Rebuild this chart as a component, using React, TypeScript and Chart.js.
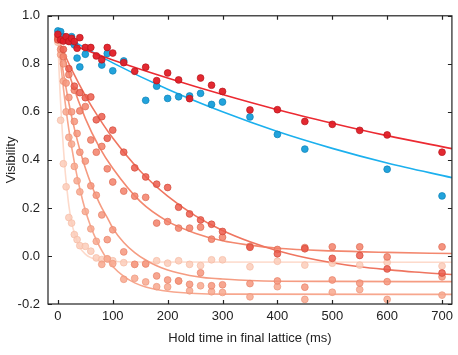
import React, { useEffect, useRef } from "react";
import { Chart, registerables } from "chart.js";
Chart.register(...registerables);

const xTickValues = [0, 100, 200, 300, 400, 500, 600, 700];
const yTickValues = [-0.2, 0, 0.2, 0.4, 0.6, 0.8, 1.0];

// Red series
const redX = [0, 5, 10, 15, 20, 25, 30, 35, 40, 50, 60, 70, 80, 90, 100, 120, 140, 160, 180, 200, 220, 240, 260, 280, 300, 350, 400, 450, 500, 550, 600, 700];
const redY = [0.923, 0.9, 0.895, 0.913, 0.893, 0.906, 0.893, 0.865, 0.909, 0.868, 0.868, 0.833, 0.817, 0.868, 0.845, 0.805, 0.769, 0.786, 0.73, 0.762, 0.733, 0.655, 0.741, 0.711, 0.685, 0.608, 0.609, 0.56, 0.548, 0.523, 0.504, 0.432];
const redFitX = [0, 100, 200, 300, 400, 500, 600, 718];
const redFitY = [0.9, 0.816, 0.741, 0.672, 0.609, 0.553, 0.501, 0.447];

// Blue series
const blueX = [0, 5, 10, 15, 20, 25, 30, 35, 40, 50, 80, 90, 100, 120, 160, 180, 200, 220, 240, 260, 280, 300, 350, 400, 450, 600, 700];
const blueY = [0.937, 0.934, 0.913, 0.899, 0.895, 0.913, 0.879, 0.824, 0.787, 0.84, 0.795, 0.843, 0.771, 0.812, 0.648, 0.707, 0.656, 0.663, 0.666, 0.677, 0.631, 0.641, 0.579, 0.506, 0.445, 0.361, 0.25];
const blueFitX = [0, 100, 200, 300, 400, 500, 600, 718];
const blueFitY = [0.93, 0.804, 0.694, 0.6, 0.518, 0.448, 0.387, 0.326];

// Orange series (slowest decay, darkest)
const s1X = [0, 10, 20, 30, 40, 50, 60, 70, 80, 90, 100, 120, 140, 160, 180, 200, 220, 240, 260, 280, 300, 350, 400, 450, 500, 550, 600, 700];
const s1Y = [0.9, 0.86, 0.78, 0.707, 0.68, 0.659, 0.662, 0.567, 0.58, 0.49, 0.524, 0.432, 0.367, 0.329, 0.299, 0.285, 0.203, 0.175, 0.15, 0.132, 0.102, 0.036, 0.009, 0.03, -0.01, 0.002, -0.054, -0.071];
const s1FitX = [0, 25, 50, 75, 100, 150, 200, 250, 300, 350, 400, 450, 500, 550, 600, 650, 718];
const s1FitY = [0.9, 0.777, 0.668, 0.574, 0.491, 0.354, 0.249, 0.168, 0.106, 0.059, 0.022, -0.006, -0.028, -0.045, -0.057, -0.067, -0.077];

const s2X = [0, 10, 20, 30, 40, 50, 60, 70, 80, 90, 100, 120, 140, 160, 180, 200, 220, 240, 260, 280, 300, 350, 400, 450, 500, 550, 600, 700];
const s2Y = [0.91, 0.83, 0.755, 0.69, 0.604, 0.622, 0.483, 0.432, 0.456, 0.363, 0.308, 0.27, 0.249, 0.244, 0.137, 0.143, 0.116, 0.116, 0.12, 0.07, 0.078, 0.04, 0.027, 0.035, 0.038, 0.038, -0.004, 0.038];
const s2FitX = [0, 25, 50, 75, 100, 150, 200, 250, 300, 350, 400, 500, 600, 718];
const s2FitY = [0.92, 0.726, 0.573, 0.455, 0.365, 0.227, 0.144, 0.095, 0.063, 0.045, 0.032, 0.021, 0.015, 0.01];

const s3X = [0, 5, 10, 15, 20, 25, 30, 35, 40, 50, 60, 70, 80, 90, 100, 120, 140, 160, 180, 200, 220, 240, 260, 280, 300, 350, 400, 450, 500, 550, 600, 700];
const s3Y = [0.91, 0.86, 0.8, 0.72, 0.66, 0.6, 0.56, 0.51, 0.432, 0.395, 0.292, 0.253, 0.171, 0.068, 0.109, 0.017, -0.035, -0.033, -0.083, -0.1, -0.104, -0.118, -0.07, -0.124, -0.12, -0.115, -0.104, -0.13, -0.1, -0.113, -0.107, -0.087];
const s3FitX = [0, 10, 20, 30, 40, 50, 60, 70, 80, 90, 100, 120, 140, 160, 180, 200, 220, 240, 260, 280, 300, 350, 400, 500, 718];
const s3FitY = [0.903, 0.763, 0.637, 0.531, 0.442, 0.366, 0.302, 0.248, 0.2, 0.16, 0.116, 0.056, 0.014, -0.017, -0.041, -0.058, -0.071, -0.081, -0.088, -0.093, -0.096, -0.102, -0.105, -0.106, -0.107];

const s4X = [0, 5, 10, 15, 20, 25, 30, 35, 40, 50, 60, 70, 80, 90, 100, 120, 140, 160, 180, 200, 220, 240, 260, 280, 300, 350, 400, 450, 500, 550, 600, 700];
const s4Y = [0.9, 0.838, 0.728, 0.6, 0.494, 0.466, 0.373, 0.313, 0.267, 0.185, 0.113, 0.061, -0.035, -0.012, -0.032, -0.097, -0.093, -0.108, -0.128, -0.129, -0.104, -0.145, -0.124, -0.149, -0.152, -0.17, -0.128, -0.181, -0.151, -0.14, -0.181, -0.163];
const s4FitX = [0, 10, 20, 30, 40, 50, 60, 70, 80, 90, 100, 120, 140, 160, 180, 200, 250, 300, 718];
const s4FitY = [0.91, 0.7, 0.526, 0.39, 0.28, 0.19, 0.122, 0.067, 0.022, -0.015, -0.044, -0.085, -0.112, -0.129, -0.14, -0.147, -0.156, -0.159, -0.16];

// Lightest, fastest decay
const s5X = [0, 5, 10, 15, 20, 25, 30, 35, 40, 50, 60, 70, 80, 90, 100, 120, 140, 160, 180, 200, 220, 240, 260, 280, 300, 350, 400, 450, 500, 550, 600, 700];
const s5Y = [0.89, 0.565, 0.384, 0.288, 0.16, 0.137, 0.089, 0.068, 0.043, 0.04, 0.02, -0.008, -0.015, -0.012, -0.02, -0.028, -0.035, -0.033, -0.02, -0.03, -0.02, -0.035, -0.04, -0.016, -0.016, -0.045, -0.022, -0.038, -0.03, -0.038, -0.027, -0.042];
const s5FitX = [0, 2, 4, 6, 8, 10, 13, 16, 20, 25, 30, 35, 40, 50, 60, 70, 80, 100, 130, 718];
const s5FitY = [0.9, 0.78, 0.68, 0.595, 0.52, 0.45, 0.36, 0.29, 0.21, 0.14, 0.095, 0.06, 0.035, 0.008, -0.007, -0.015, -0.02, -0.023, -0.025, -0.026];

const pts = (xs: number[], ys: number[]) => xs.map((x, i) => ({ x, y: ys[i] }));

function scatterSet(xs: number[], ys: number[], fill: string, border: string, order: number) {
  return {
    data: pts(xs, ys),
    showLine: false,
    pointRadius: 3.4,
    pointBackgroundColor: fill,
    pointBorderColor: border,
    pointBorderWidth: 0.7,
    order,
  };
}

function lineSet(xs: number[], ys: number[], color: string, order: number) {
  return {
    data: pts(xs, ys),
    showLine: true,
    pointRadius: 0,
    borderColor: color,
    borderWidth: 1.6,
    cubicInterpolationMode: "monotone" as const,
    fill: false,
    order,
  };
}

const framePlugin = {
  id: "frame",
  afterDraw(chart: any) {
    const { ctx, chartArea } = chart;
    const { left, right, top, bottom } = chartArea;
    const xs = chart.scales.x;
    const ys = chart.scales.y;
    ctx.save();
    ctx.strokeStyle = "#222";
    ctx.lineWidth = 1.2;
    ctx.strokeRect(left, top, right - left, bottom - top);
    ctx.beginPath();
    const tl = 4;
    xTickValues.forEach((v) => {
      const p = Math.round(xs.getPixelForValue(v)) + 0.5;
      ctx.moveTo(p, bottom);
      ctx.lineTo(p, bottom - tl);
      ctx.moveTo(p, top);
      ctx.lineTo(p, top + tl);
    });
    yTickValues.forEach((v) => {
      const p = Math.round(ys.getPixelForValue(v)) + 0.5;
      ctx.moveTo(left, p);
      ctx.lineTo(left + tl, p);
      ctx.moveTo(right, p);
      ctx.lineTo(right - tl, p);
    });
    ctx.stroke();
    ctx.restore();
  },
};

const FONT = "'Liberation Sans', Arial, sans-serif";

export default function App() {
  const ref = useRef<HTMLCanvasElement | null>(null);
  useEffect(() => {
    if (!ref.current) return;
    const chart = new Chart(ref.current, {
      type: "scatter",
      data: {
        datasets: [
          scatterSet(redX, redY, "rgba(226,30,38,0.95)", "#b8161c", 1),
          scatterSet(blueX, blueY, "rgba(22,158,218,0.95)", "#0f82b8", 1),
          scatterSet(s1X, s1Y, "rgba(236,92,76,0.85)", "#d24a3b", 2),
          scatterSet(s2X, s2Y, "rgba(243,128,104,0.85)", "#de6d56", 2),
          scatterSet(s3X, s3Y, "rgba(246,150,124,0.85)", "#e8836a", 2),
          scatterSet(s4X, s4Y, "rgba(248,168,142,0.85)", "#ec967c", 2),
          scatterSet(s5X, s5Y, "rgba(252,204,186,0.85)", "#f5bba5", 2),
          lineSet(redFitX, redFitY, "#ec2a32", 3),
          lineSet(blueFitX, blueFitY, "#1cb0ee", 3),
          lineSet(s1FitX, s1FitY, "#ef7560", 4),
          lineSet(s2FitX, s2FitY, "#f3886f", 4),
          lineSet(s3FitX, s3FitY, "#f59c82", 4),
          lineSet(s4FitX, s4FitY, "#f7a78e", 4),
          lineSet(s5FitX, s5FitY, "#fddacb", 4),
        ] as any,
      },
      options: {
        animation: false,
        responsive: false,
        layout: { padding: { left: 0, right: 1.5, top: 12, bottom: 0 } },
        plugins: { legend: { display: false }, tooltip: { enabled: false } },
        scales: {
          x: {
            type: "linear",
            min: -18,
            max: 718,
            afterBuildTicks: (s: any) => {
              s.ticks = xTickValues.map((v) => ({ value: v }));
            },
            afterFit: (s: any) => {
              s.height = 51;
            },
            grid: { display: false, drawTicks: false },
            border: { display: false },
            ticks: {
              padding: 5,
              color: "#222",
              font: { family: FONT, size: 13 },
              callback: (v: any) => String(v),
            },
            title: {
              display: true,
              text: "Hold time in final lattice (ms)",
              color: "#222",
              font: { family: FONT, size: 13 },
              padding: { top: 0, bottom: 9 },
            },
          },
          y: {
            type: "linear",
            min: -0.2,
            max: 1.0,
            afterBuildTicks: (s: any) => {
              s.ticks = yTickValues.map((v) => ({ value: v }));
            },
            afterFit: (s: any) => {
              s.width = 48;
            },
            grid: { display: false, drawTicks: false },
            border: { display: false },
            ticks: {
              padding: 8,
              color: "#222",
              font: { family: FONT, size: 13 },
              callback: (v: any) => Number(v).toFixed(1),
            },
            title: {
              display: true,
              text: "Visibility",
              color: "#222",
              font: { family: FONT, size: 13 },
              padding: { top: 4, bottom: 0 },
            },
          },
        },
      } as any,
      plugins: [framePlugin],
    });
    return () => chart.destroy();
  }, []);
  return (
    <div style={{ position: "absolute", left: 0, top: 0, width: 458, height: 355, background: "#fff" }}>
      <canvas ref={ref} width={458} height={355} style={{ width: 458, height: 355, display: "block" }} />
    </div>
  );
}
